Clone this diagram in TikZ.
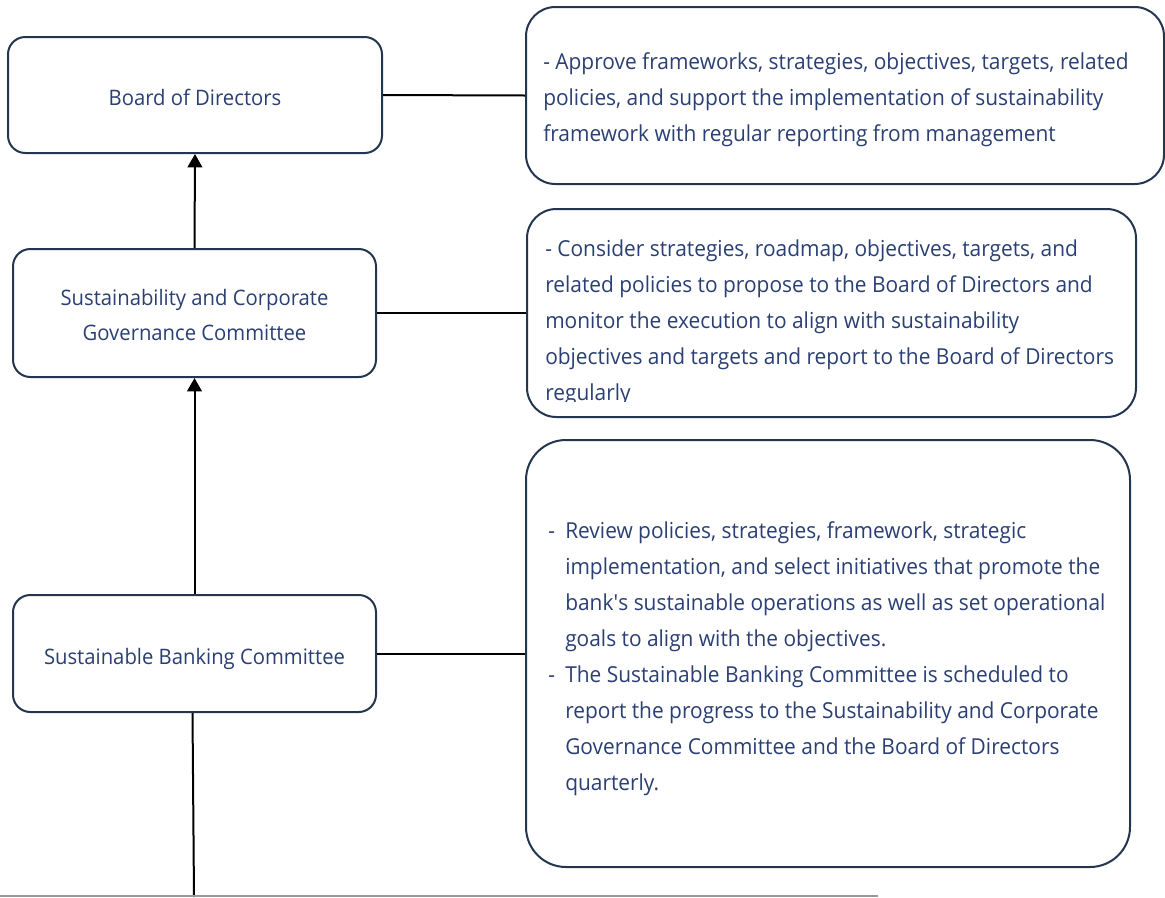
\documentclass[tikz,border=0pt]{standalone}
\usepackage{fontspec}
\setmainfont[FakeStretch=0.95]{Open Sans}
\usetikzlibrary{arrows.meta,fit}
\definecolor{navytext}{HTML}{2A3F73}
\definecolor{boxline}{HTML}{24364F}
\begin{document}
\begin{tikzpicture}[x=0.75pt,y=-0.75pt,
  box/.style={draw=boxline,line width=1.5pt,inner sep=0pt,fill=white},
  lbl/.style={font=\fontsize{16}{20}\selectfont,text=navytext,inner sep=0pt,anchor=base},
  ln/.style={font=\fontsize{16.5}{20}\selectfont,text=navytext,inner sep=0pt,anchor=base west},
  conn/.style={draw=black,line width=1.5pt},
  arr/.style={conn,-{Triangle[width=11pt,length=10pt]}}]
\useasboundingbox (0,0) rectangle (1165,897);

% left boxes
\node[box,rounded corners=13pt,fit={(8,37)(382,153)}] (bod) {};
\node[box,rounded corners=13pt,fit={(13,249)(376,377)}] (scgc) {};
\node[box,rounded corners=13pt,fit={(13,595)(376,712)}] (sbc) {};
\node[lbl] (bodt) at ([yshift=-7.5pt]bod.center) {Board of Directors};
\node[lbl] (scgct1) at ([yshift=6pt]scgc.center) {Sustainability and Corporate};
\node[lbl] (scgct2) at ([yshift=-20.5pt]scgc.center) {Governance Committee};
\node[lbl] (sbct) at ([yshift=-8.5pt]sbc.center) {Sustainable Banking Committee};

% right boxes
\node[box,rounded corners=22pt,fit={(526,7)(1164,184)}] (r1) {};
\node[box,rounded corners=22pt,fit={(527,209)(1136,417)}] (r2) {};
\node[box,rounded corners=30pt,fit={(526,440)(1130,867)}] (r3) {};

% box 1 text
\node[ln] (r1a) at (543,69) {- Approve frameworks, strategies, objectives, targets, related};
\node[ln] (r1b) at (543,105) {policies, and support the implementation of sustainability};
\node[ln] (r1c) at (543,141) {framework with regular reporting from management};

% box 2 text
\begin{scope}
\clip (527,209) rectangle (1136,401);
\node[ln] (r2a) at (545,256) {- Consider strategies, roadmap, objectives, targets, and};
\node[ln] (r2b) at (545,292) {related policies to propose to the Board of Directors and};
\node[ln] (r2c) at (545,328) {monitor the execution to align with sustainability};
\node[ln] (r2d) at (545,364) {objectives and targets and report to the Board of Directors};
\node[ln] (r2e) at (545,400) {regularly};
\end{scope}

% box 3 text
\node[ln] (d1) at (548,538) {-};
\node[ln] (r3a) at (565,538) {Review policies, strategies, framework, strategic};
\node[ln] (r3b) at (565,574) {implementation, and select initiatives that promote the};
\node[ln] (r3c) at (565,610) {bank\textquotesingle s sustainable operations as well as set operational};
\node[ln] (r3d) at (565,646) {goals to align with the objectives.};
\node[ln] (d2) at (548,682) {-};
\node[ln] (r3e) at (565,682) {The Sustainable Banking Committee is scheduled to};
\node[ln] (r3f) at (565,718) {report the progress to the Sustainability and Corporate};
\node[ln] (r3g) at (565,754) {Governance Committee and the Board of Directors};
\node[ln] (r3h) at (565,790) {quarterly.};

% connectors
\draw[conn] (bod.east) -- (r1.west);
\draw[conn] (scgc.east) -- (r2.west);
\draw[conn] (sbc.east) -- (r3.west);
\draw[arr] (scgc.north) -- (bod.south);
\draw[arr] (sbc.north) -- (scgc.south);
\coordinate (bottom) at (194,897);
\draw[conn] ([xshift=-1.5pt]sbc.south) -- (bottom);
\coordinate (gl) at (0,896);
\coordinate (gr) at (878,896);
\draw[draw=gray!80,line width=1.3pt] (gl) -- (gr);
\end{tikzpicture}
\end{document}
